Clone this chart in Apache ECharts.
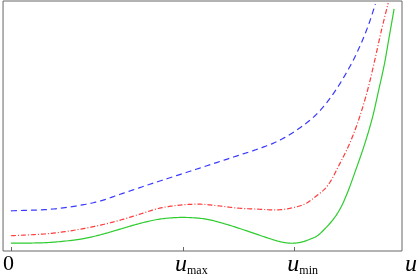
<!DOCTYPE html>
<html>
<head>
<meta charset="utf-8">
<script src="https://cdn.jsdelivr.net/npm/echarts@6/dist/echarts.min.js"></script>
<style>html,body{margin:0;padding:0;background:#fff}#c{width:420px;height:277px}</style>
</head>
<body>
<div id="c"></div>
<script>
// x positions (arbitrary units, 0 at origin) and potential values
const greenX = [0,21,41,71,91,111,131,151,174,198,218,241,264,274,284,294,304,311,326,334,341,351,359,367,373,379,384,389];
const greenY = [8,8,8.7,12,16.3,22,27.7,32,33.7,32,27,19.7,12,9.2,7.8,8.7,12,15.3,30.3,42,57,84,107,134,160,187,215,243];
const redX = [0,41,71,91,111,131,151,171,191,211,231,251,271,284,298,308,321,334,343,351,357,363,369,376,383];
const redY = [15.3,17.7,22,26,31,37,43,46,47,45.3,43,42,41.3,43,47,53.7,65,88,106,126,144,165,190,221,249];
const blueX = [0,41,71,91,111,141,191,231,251,271,291,311,328,344,354,363,370];
const blueY = [40.3,42,46,50.3,57,67,83,96,102.5,110.3,122,138,159,185,205,227,248];
const tickValues = [0, 175, 288];
const tickLabels = ['0', 'max', 'min'];
const axisEndLabel = 'u';
const xMin = -8, xMax = 397, yMin = 0, yMax = 251;

const pairs = (xs, ys) => xs.map((x, i) => [x, ys[i]]);

// centripetal Catmull-Rom through pixel points
function spline(P) {
  const n = P.length;
  const ext = [[2*P[0][0]-P[1][0], 2*P[0][1]-P[1][1]]].concat(P, [[2*P[n-1][0]-P[n-2][0], 2*P[n-1][1]-P[n-2][1]]]);
  const out = [P[0]];
  const d = (a, b) => Math.pow(Math.hypot(b[0]-a[0], b[1]-a[1]) || 1e-6, 0.5);
  const lerp = (a, b, ta, tb, t) => [((tb-t)*a[0] + (t-ta)*b[0])/(tb-ta), ((tb-t)*a[1] + (t-ta)*b[1])/(tb-ta)];
  for (let i = 1; i < ext.length - 2; i++) {
    const p0 = ext[i-1], p1 = ext[i], p2 = ext[i+1], p3 = ext[i+2];
    const t0 = 0, t1 = t0 + d(p0,p1), t2 = t1 + d(p1,p2), t3 = t2 + d(p2,p3);
    const steps = 16;
    for (let s = 1; s <= steps; s++) {
      const t = t1 + (t2 - t1) * s / steps;
      const A1 = lerp(p0,p1,t0,t1,t), A2 = lerp(p1,p2,t1,t2,t), A3 = lerp(p2,p3,t2,t3,t);
      const B1 = lerp(A1,A2,t0,t2,t), B2 = lerp(A2,A3,t1,t3,t);
      out.push(lerp(B1,B2,t1,t2,t));
    }
  }
  return out;
}

function curveSeries(xs, ys, color, dash) {
  return {
    type: 'custom', data: pairs(xs, ys), encode: {x: 0, y: 1}, clip: false,
    renderItem: function (params, api) {
      if (params.dataIndex !== 0) return null;
      const pts = xs.map((x, i) => api.coord([x, ys[i]]));
      return {type: 'polyline', shape: {points: spline(pts)},
        style: {stroke: color, lineWidth: 1.2, fill: null, lineDash: dash}};
    }
  };
}

const chart = echarts.init(document.getElementById('c'), null, {renderer: 'canvas'});
chart.setOption({
  animation: false,
  grid: {left: 1, right: 14, top: 1, bottom: 25, show: true, borderColor: '#666', borderWidth: 1, backgroundColor: 'transparent'},
  xAxis: {
    type: 'value', min: xMin, max: xMax,
    axisLine: {show: false},
    splitLine: {show: false},
    axisTick: {show: true, inside: true, length: 4, lineStyle: {color: '#666'}, customValues: tickValues},
    axisLabel: {
      show: true, margin: 2, customValues: tickValues.concat([xMax]),
      showMinLabel: true, showMaxLabel: true,
      formatter: function (v) {
        if (v === xMax) return '{sp2|}{u|' + axisEndLabel + '}';
        const i = tickValues.indexOf(v);
        if (i === 0) return '{z|' + tickLabels[0] + '}';
        return '{sp|}{u|u}{s|' + tickLabels[i] + '}';
      },
      rich: {
        z: {fontFamily: 'Liberation Serif', fontSize: 22, color: '#000', padding: [0, 5, 0, 0]},
        u: {fontFamily: 'Liberation Serif', fontStyle: 'italic', fontSize: 24, color: '#000'},
        s: {fontFamily: 'Liberation Serif', fontSize: 12, color: '#000', verticalAlign: 'bottom', padding: [10, 0, 0, 0]},
        sp: {width: 16},
        sp2: {width: 18}
      }
    }
  },
  yAxis: {type: 'value', min: yMin, max: yMax, show: false, splitLine: {show: false}},
  series: [
    curveSeries(blueX, blueY, '#3a3aff', [6, 4]),
    curveSeries(redX, redY, '#ff3a3a', [5, 2, 1, 2]),
    curveSeries(greenX, greenY, '#2ecc2e', null)
  ]
});
</script>
</body>
</html>
